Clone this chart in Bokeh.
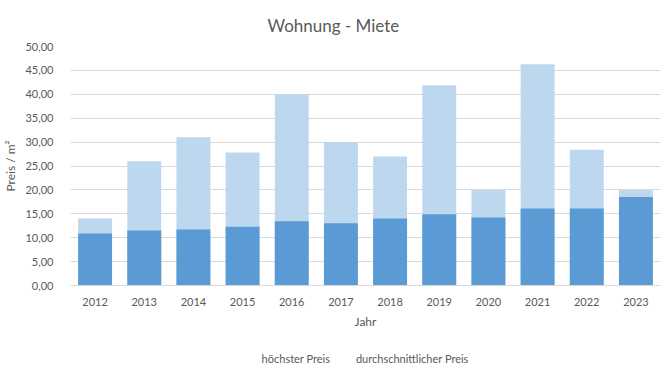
from bokeh.plotting import figure
from bokeh.layouts import column
from bokeh.models import ColumnDataSource, Legend, LegendItem, CustomJSTickFormatter, FixedTicker, Range1d
from bokeh.embed import file_html
from bokeh.resources import INLINE

years = ["2012", "2013", "2014", "2015", "2016", "2017", "2018", "2019", "2020", "2021", "2022", "2023"]
hoechster = [14.0, 26.0, 31.0, 27.8, 40.0, 30.0, 27.0, 41.9, 20.0, 46.3, 28.4, 20.0]
durchschnitt = [10.9, 11.5, 11.7, 12.3, 13.45, 13.0, 14.0, 14.9, 14.2, 16.1, 16.1, 18.5]
y_ticks = [0, 5, 10, 15, 20, 25, 30, 35, 40, 45, 50]
series_names = ["höchster Preis", "durchschnittlicher Preis"]
series_colors = ["#BDD7EE", "#5B9BD5"]

FONT = "Lato"
TXT = "#595959"

src = ColumnDataSource(dict(x=years, hi=hoechster, avg=durchschnitt))

p = figure(frame_width=590, frame_height=239,
           x_range=years, y_range=Range1d(0, 50),
           output_backend="svg", toolbar_location=None,
           min_border_left=60, min_border_right=1, min_border_top=46, min_border_bottom=0)
p.outline_line_color = None
p.background_fill_color = "white"
p.border_fill_color = "white"

p.vbar(x="x", top="hi", width=0.69, source=src, color=series_colors[0], line_color=None)
p.vbar(x="x", top="avg", width=0.69, source=src, color=series_colors[1], line_color=None)

p.title.text = "Wohnung - Miete"
p.title.align = "left"
p.title.offset = 197
p.title.standoff = 22
p.title.text_font = FONT
p.title.text_font_size = "17px"
p.title.text_font_style = "normal"
p.title.text_color = TXT

p.xgrid.grid_line_color = None
p.ygrid.grid_line_color = "#D9D9D9"
p.ygrid.ticker = FixedTicker(ticks=y_ticks)

p.yaxis.ticker = FixedTicker(ticks=y_ticks)
p.yaxis.formatter = CustomJSTickFormatter(code="return tick.toFixed(2).replace('.', ',');")
p.yaxis.axis_line_color = None
p.yaxis.major_tick_line_color = None
p.yaxis.minor_tick_line_color = None
p.yaxis.major_label_text_font = FONT
p.yaxis.major_label_text_font_size = "11px"
p.yaxis.major_label_text_color = TXT
p.yaxis.major_label_standoff = 11
p.yaxis.axis_label = "Preis / m²"
p.yaxis.axis_label_text_font = FONT
p.yaxis.axis_label_text_font_size = "12px"
p.yaxis.axis_label_text_font_style = "normal"
p.yaxis.axis_label_text_color = TXT
p.yaxis.axis_label_standoff = 4

p.xaxis.axis_line_color = "#D9D9D9"
p.xaxis.major_tick_line_color = None
p.xaxis.minor_tick_line_color = None
p.xaxis.major_label_text_font = FONT
p.xaxis.major_label_text_font_size = "11px"
p.xaxis.major_label_text_color = TXT
p.xaxis.major_label_standoff = 6
p.xaxis.axis_label = "Jahr"
p.xaxis.axis_label_text_font = FONT
p.xaxis.axis_label_text_font_size = "12px"
p.xaxis.axis_label_text_font_style = "normal"
p.xaxis.axis_label_text_color = TXT
p.xaxis.axis_label_standoff = 5

# separate strip holding the legend (below the chart)
lg = figure(width=651, height=36, x_range=Range1d(0, 1), y_range=Range1d(0, 1),
            output_backend="svg", toolbar_location=None,
            min_border_left=0, min_border_right=0, min_border_top=0, min_border_bottom=0)
lg.outline_line_color = None
lg.axis.visible = False
lg.grid.visible = False
lg.border_fill_color = "white"
lg.background_fill_color = "white"
empty = ColumnDataSource(dict(x=[], y=[]))
items = []
for name, col in zip(series_names, series_colors):
    r = lg.scatter(x="x", y="y", source=empty, marker="square", size=7, color=col, line_color=None)
    items.append(LegendItem(label=name, renderers=[r]))

legend = Legend(items=items, orientation="horizontal", location="bottom_center",
                label_text_font=FONT, label_text_font_size="11px", label_text_color=TXT,
                glyph_width=7, glyph_height=7, spacing=16, label_standoff=3,
                border_line_color=None, background_fill_alpha=0, margin=2, padding=2)
lg.add_layout(legend, "center")

layout = column(p, lg, spacing=0)
open("out.html", "w").write(file_html(layout, INLINE))
